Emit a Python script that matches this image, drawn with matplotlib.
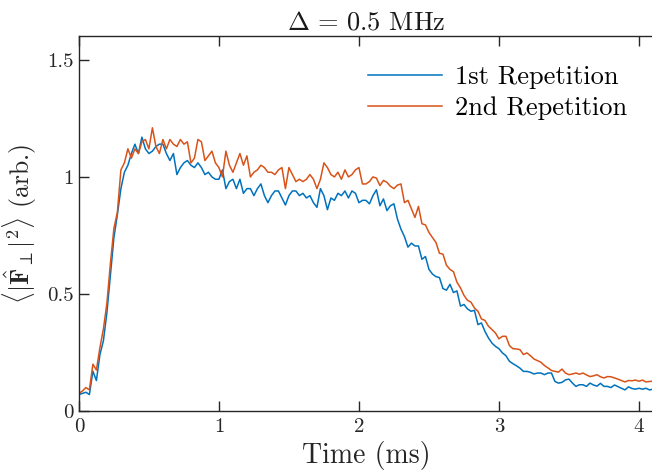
import numpy as np
import matplotlib
matplotlib.use("Agg")
import matplotlib.pyplot as plt

plt.rcParams['font.family'] = 'serif'
plt.rcParams['font.serif'] = ['cmr10']
plt.rcParams['mathtext.fontset'] = 'cm'
plt.rcParams['axes.unicode_minus'] = False

# time step of the readings (ms)
dt = 0.025

# 1st repetition, every 0.025 ms from t = 0
rep1 = [0.07, 0.075, 0.08, 0.07, 0.17, 0.13, 0.24, 0.30, 0.42, 0.58,
        0.74, 0.84, 0.95, 1.02, 1.05, 1.10, 1.14, 1.10, 1.17, 1.12,
        1.10, 1.11, 1.13, 1.14, 1.14, 1.10, 1.07, 1.10, 1.01, 1.04,
        1.06, 1.07, 1.05, 1.04, 1.06, 1.04, 1.01, 1.02, 1.00, 0.99,
        0.99, 1.03, 0.95, 0.98, 0.99, 0.95, 0.99, 0.93, 0.95, 0.95,
        0.92, 0.95, 0.97, 0.92, 0.89, 0.92, 0.94, 0.94, 0.91, 0.88,
        0.92, 0.94, 0.94, 0.92, 0.93, 0.91, 0.92, 0.89, 0.87, 0.95,
        0.92, 0.86, 0.91, 0.90, 0.93, 0.92, 0.94, 0.91, 0.94, 0.93,
        0.89, 0.90, 0.90, 0.885, 0.92, 0.945, 0.877, 0.906, 0.856, 0.877,
        0.885, 0.82, 0.777, 0.745, 0.70, 0.717, 0.705, 0.705, 0.648, 0.66,
        0.605, 0.585, 0.574, 0.57, 0.523, 0.516, 0.541, 0.506, 0.513, 0.448,
        0.455, 0.436, 0.426, 0.43, 0.369, 0.376, 0.34, 0.312, 0.29, 0.276,
        0.266, 0.248, 0.236, 0.212, 0.202, 0.193, 0.183, 0.169, 0.169, 0.165,
        0.158, 0.162, 0.162, 0.155, 0.162, 0.162, 0.126, 0.119, 0.122, 0.133,
        0.136, 0.119, 0.105, 0.112, 0.112, 0.105, 0.119, 0.111, 0.106, 0.118,
        0.105, 0.105, 0.10, 0.111, 0.104, 0.097, 0.09, 0.103, 0.096, 0.093,
        0.097, 0.093, 0.097, 0.09, 0.093]

# 2nd repetition, same time grid
rep2 = [0.075, 0.085, 0.10, 0.09, 0.20, 0.175, 0.27, 0.35, 0.46, 0.63,
        0.78, 0.85, 1.03, 1.06, 1.12, 1.08, 1.12, 1.10, 1.15, 1.16,
        1.12, 1.21, 1.13, 1.10, 1.16, 1.12, 1.16, 1.14, 1.13, 1.16,
        1.14, 1.15, 1.06, 1.08, 1.16, 1.15, 1.07, 1.09, 1.11, 1.06,
        1.04, 1.00, 1.11, 1.05, 1.02, 1.06, 1.10, 1.05, 1.09, 1.00,
        1.02, 1.03, 1.05, 1.04, 1.02, 1.02, 1.01, 1.03, 1.04, 0.95,
        1.04, 1.01, 0.98, 0.99, 0.98, 0.99, 1.01, 0.99, 0.95, 0.99,
        1.06, 1.04, 1.01, 1.00, 1.02, 0.99, 1.03, 1.00, 1.01, 1.03,
        1.04, 0.97, 0.97, 0.98, 1.00, 0.995, 0.963, 0.985, 0.977, 0.96,
        0.95, 0.965, 0.97, 0.89, 0.90, 0.863, 0.827, 0.874, 0.80, 0.795,
        0.763, 0.741, 0.72, 0.674, 0.67, 0.623, 0.605, 0.595, 0.55, 0.526,
        0.494, 0.473, 0.465, 0.44, 0.426, 0.393, 0.387, 0.362, 0.348, 0.333,
        0.308, 0.319, 0.319, 0.279, 0.266, 0.265, 0.262, 0.241, 0.248, 0.236,
        0.222, 0.215, 0.208, 0.194, 0.184, 0.173, 0.169, 0.166, 0.179, 0.162,
        0.155, 0.158, 0.162, 0.157, 0.162, 0.154, 0.147, 0.15, 0.155, 0.146,
        0.141, 0.147, 0.146, 0.141, 0.136, 0.13, 0.124, 0.13, 0.129, 0.132,
        0.127, 0.132, 0.124, 0.126, 0.127]

t1 = np.arange(len(rep1)) * dt
t2 = np.arange(len(rep2)) * dt

xticks = [0, 1, 2, 3, 4]
yticks = [0, 0.5, 1, 1.5]
ytick_labels = ['0', '0.5', '1', '1.5']

fig = plt.figure(figsize=(6.52, 4.74), dpi=100)
ax = fig.add_axes([0.121, 0.133, 0.8805, 0.79])

ax.plot(t1, rep1, color='#0072BD', lw=1.1, label='1st Repetition')
ax.plot(t2, rep2, color='#D95319', lw=1.1, label='2nd Repetition')

ax.set_xlim(0, 4.1)
ax.set_ylim(0, 1.6)
ax.set_xticks(xticks)
ax.set_xticklabels([str(x) for x in xticks])
ax.set_yticks(yticks)
ax.set_yticklabels(ytick_labels)

ax.tick_params(direction='in', length=7.5, width=1.0, color='0.15',
               labelsize=15, labelcolor='0.15', top=True, right=False)
ax.tick_params(axis='x', pad=5)
for side in ['left', 'bottom', 'top']:
    ax.spines[side].set_color('0.15')
    ax.spines[side].set_linewidth(1.0)
ax.spines['right'].set_visible(False)

ax.set_xlabel('Time (ms)', fontsize=20, color='0.15', labelpad=4)
ax.set_ylabel(r'$\langle|\hat{\mathbf{F}}_\perp|^2\rangle$ (arb.)', fontsize=18.5,
              color='0.15', labelpad=6)
ax.set_title(r'$\Delta\,=\,0.5$ MHz', fontsize=19, color='0.1', pad=5)

ax.legend(loc='upper left', bbox_to_anchor=(0.480, 0.958), frameon=False,
          fontsize=19, handlelength=2.8, handletextpad=0.5, borderpad=0,
          labelspacing=0.28)

fig.savefig('out.png', dpi=100)
